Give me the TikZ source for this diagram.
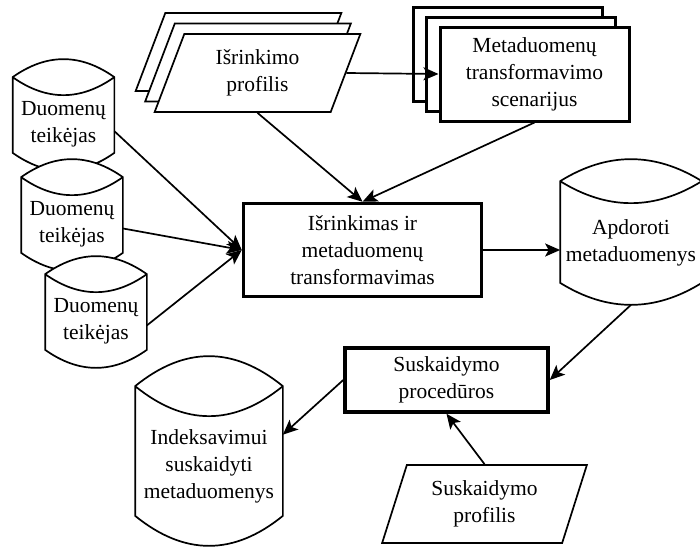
\documentclass[tikz,border=0pt]{standalone}
\usepackage{fontspec}
\setmainfont{Liberation Serif}
\usetikzlibrary{shapes.geometric,shadows,arrows.meta}

\makeatletter
\newdimen\disk@l \newdimen\disk@r \newdimen\disk@t \newdimen\disk@b
\newdimen\disk@k \newdimen\disk@m \newdimen\disk@c
\newdimen\disk@u \newdimen\disk@d \newdimen\disk@v
\pgfkeys{/pgf/disk bulge/.initial=18pt}
\pgfdeclareshape{disk}{
  \inheritsavedanchors[from=rectangle]
  \inheritanchorborder[from=rectangle]
  \inheritanchor[from=rectangle]{center}
  \inheritanchor[from=rectangle]{north}
  \inheritanchor[from=rectangle]{south}
  \inheritanchor[from=rectangle]{east}
  \inheritanchor[from=rectangle]{west}
  \inheritanchor[from=rectangle]{north east}
  \inheritanchor[from=rectangle]{north west}
  \inheritanchor[from=rectangle]{south east}
  \inheritanchor[from=rectangle]{south west}
  \backgroundpath{%
    \pgfmathsetlength\disk@k{\pgfkeysvalueof{/pgf/disk bulge}}%
    \southwest \disk@l=\pgf@x \disk@b=\pgf@y
    \northeast \disk@r=\pgf@x \disk@t=\pgf@y
    \disk@m=\disk@l \advance\disk@m by\disk@r \divide\disk@m by 2
    \disk@c=\disk@t \advance\disk@c by\disk@k
    \disk@u=\disk@c \advance\disk@u by 2\disk@k
    \disk@d=\disk@b \advance\disk@d by -2\disk@k
    \disk@v=\disk@t \advance\disk@v by -\disk@k
    \pgfpathmoveto{\pgfqpoint{\disk@l}{\disk@c}}%
    \pgfpathquadraticcurveto{\pgfqpoint{\disk@m}{\disk@u}}{\pgfqpoint{\disk@r}{\disk@c}}%
    \pgfpathlineto{\pgfqpoint{\disk@r}{\disk@b}}%
    \pgfpathquadraticcurveto{\pgfqpoint{\disk@m}{\disk@d}}{\pgfqpoint{\disk@l}{\disk@b}}%
    \pgfpathclose
    \pgfpathmoveto{\pgfqpoint{\disk@l}{\disk@c}}%
    \pgfpathquadraticcurveto{\pgfqpoint{\disk@m}{\disk@v}}{\pgfqpoint{\disk@r}{\disk@c}}%
  }
}
\makeatother

\begin{document}
\begin{tikzpicture}[x=1pt,y=-1pt,
  every node/.style = {align=center, inner sep=0pt,
    font=\fontsize{21.5}{27}\selectfont},
  store/.style = {shape=disk, draw, fill=white, line width=1.7pt,
    minimum width=100pt, minimum height=56pt, /pgf/disk bulge=18pt},
  proc/.style  = {draw, fill=white, line width=3.5pt},
  prof/.style  = {trapezium, trapezium left angle=70,
    trapezium right angle=110, trapezium stretches=true,
    draw, fill=white, line width=1.7pt,
    minimum width=206pt, minimum height=78pt},
  arr/.style   = {-{Stealth[length=15pt,width=13pt,inset=3.5pt]},
    line width=1.7pt}]
\useasboundingbox (0,0) rectangle (700,546);

\node[prof, copy shadow={shadow xshift=-19pt, shadow yshift=21pt},
  copy shadow={shadow xshift=-9.5pt, shadow yshift=10.5pt}]
  (isprof) at (257.5,73) {Išrinkimo\\profilis};
\node[proc, line width=3pt, minimum width=189pt, minimum height=94pt,
  copy shadow={shadow xshift=-27pt, shadow yshift=20pt},
  copy shadow={shadow xshift=-13.5pt, shadow yshift=10pt}]
  (scen) at (534.5,74) {Metaduomenų\\transformavimo\\scenarijus};

\node[store] (teik1) at (63.5,124) {Duomenų\\teikėjas};
\node[store] (teik2) at (72,224) {Duomenų\\teikėjas};
\node[store] (teik3) at (96,321) {Duomenų\\teikėjas};

\node[proc, minimum width=238pt, minimum height=93pt]
  (trans) at (362.5,250) {Išrinkimas ir\\metaduomenų\\transformavimas};
\node[store, minimum width=140pt, minimum height=78pt, /pgf/disk bulge=22pt]
  (apdor) at (631,243) {Apdoroti\\metaduomenys};
\node[proc, minimum width=203pt, minimum height=64pt]
  (skproc) at (446.5,380) {Suskaidymo\\procedūros};
\node[store, minimum width=146pt, minimum height=98pt, /pgf/disk bulge=30pt]
  (index) at (209,466) {Indeksavimui\\suskaidyti\\metaduomenys};
\node[prof, minimum width=205pt] (skprof) at (484.5,504) {Suskaidymo\\profilis};

\draw[arr] (isprof.east) -- (scen.west);
\draw[arr] (teik1.-8) -- (trans.west);
\draw[arr] (teik2.-5) -- (trans.west);
\draw[arr] (teik3.-5) -- (trans.west);
\draw[arr] (isprof.south) -- (trans.north);
\draw[arr] (scen.south) -- (trans.north);
\draw[arr] (trans.east) -- (trans.east -| apdor.west);
\draw[arr] ([yshift=-22pt]apdor.south) -- (skproc.east);
\draw[arr] (skproc.west) -- (index.23);
\draw[arr] (skprof.north) -- (skproc.south);
\end{tikzpicture}
\end{document}
